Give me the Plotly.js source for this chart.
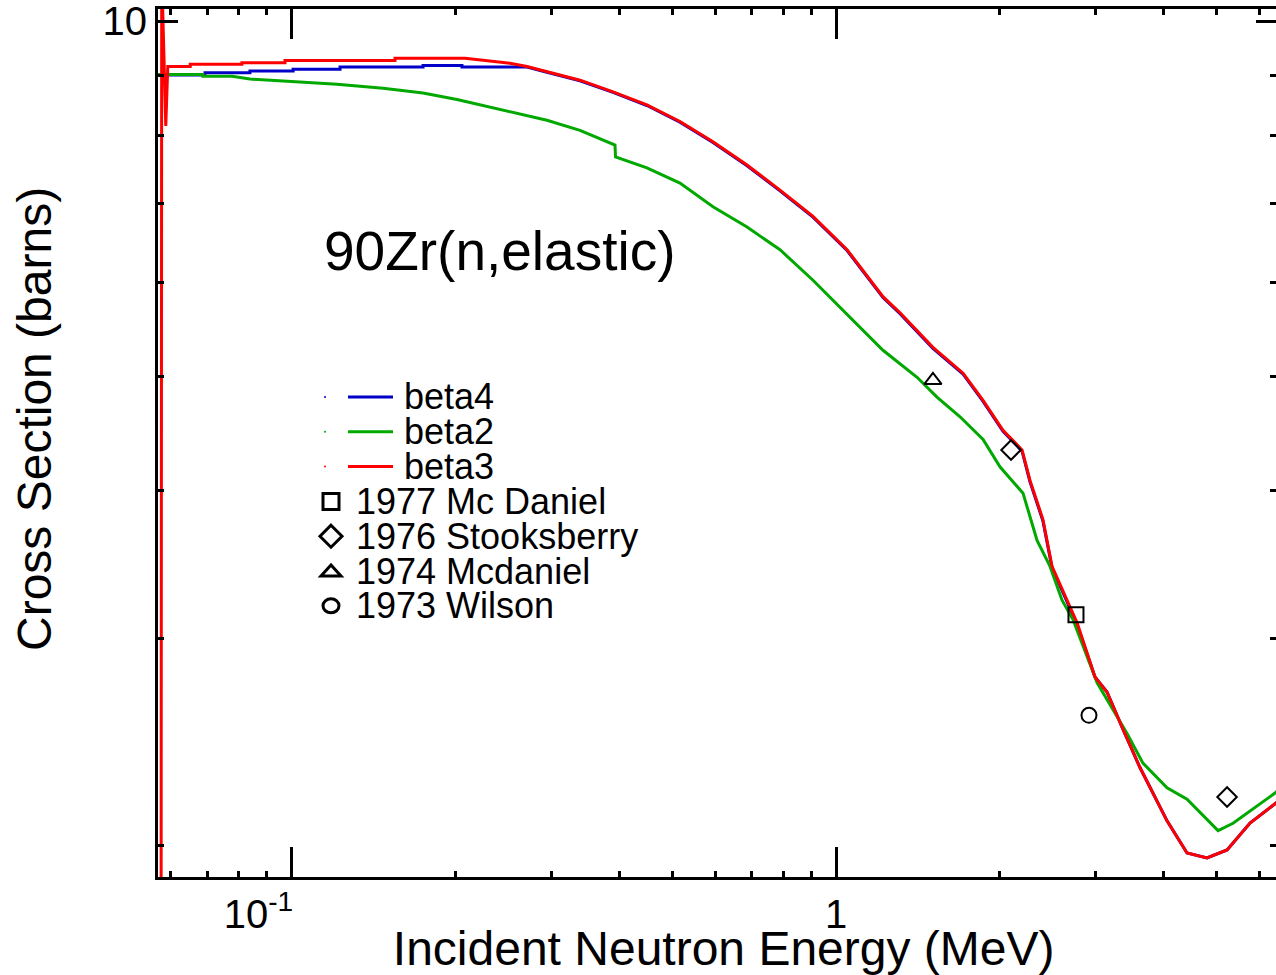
<!DOCTYPE html>
<html><head><meta charset="utf-8">
<script src="https://cdn.plot.ly/plotly-3.0.1.min.js"></script>
<style>html,body{margin:0;padding:0;background:#fff;overflow:hidden}#chart{width:1276px;height:975px}</style>
</head><body><div id="chart"></div>
<script>
// ---- data ----
const seriesNames = ['beta4', 'beta2', 'beta3'];
const seriesColors = ['#0000c8', '#00a800', '#ff0000'];

const energyBeta4 = [0.0568, 0.0693, 0.0693, 0.0838, 0.0838, 0.1006, 0.1006, 0.1227, 0.1227, 0.1743, 0.1743, 0.2055, 0.2055, 0.2518, 0.2706, 0.2944, 0.3386, 0.3894, 0.4494, 0.5168, 0.5943, 0.6864, 0.7891, 0.9073, 1.048, 1.220, 1.311, 1.507, 1.712, 1.863, 2.027, 2.197, 2.272, 2.400, 2.494, 2.657, 2.773, 2.991, 3.147, 3.368, 3.618, 4.057, 4.415, 4.804, 5.230, 5.763, 6.434, 6.6];
const sigmaBeta4 = [9.00, 9.00, 9.04, 9.04, 9.07, 9.07, 9.10, 9.10, 9.14, 9.14, 9.17, 9.17, 9.14, 9.14, 9.14, 9.05, 8.90, 8.70, 8.48, 8.21, 7.89, 7.54, 7.18, 6.82, 6.39, 5.83, 5.65, 5.28, 5.02, 4.76, 4.49, 4.32, 4.07, 3.77, 3.44, 3.22, 3.08, 2.78, 2.70, 2.51, 2.33, 2.10, 1.972, 1.953, 1.984, 2.091, 2.174, 2.20];

const energyBeta2 = [0.0568, 0.0687, 0.0687, 0.0777, 0.0838, 0.1006, 0.1211, 0.1472, 0.1743, 0.2012, 0.2218, 0.2550, 0.2944, 0.3386, 0.3926, 0.3935, 0.4494, 0.5168, 0.5943, 0.6864, 0.7891, 0.9073, 0.9874, 1.061, 1.220, 1.409, 1.533, 1.690, 1.863, 2.001, 2.206, 2.341, 2.473, 2.602, 2.725, 3.017, 3.425, 3.664, 4.057, 4.415, 5.034, 5.364, 6.434, 6.6];
const sigmaBeta2 = [9.01, 9.01, 8.98, 8.98, 8.93, 8.89, 8.84, 8.77, 8.69, 8.58, 8.49, 8.37, 8.24, 8.08, 7.85, 7.67, 7.51, 7.29, 6.96, 6.69, 6.40, 6.03, 5.80, 5.61, 5.26, 4.99, 4.80, 4.62, 4.42, 4.19, 3.98, 3.63, 3.45, 3.23, 3.11, 2.75, 2.49, 2.35, 2.24, 2.19, 2.06, 2.09, 2.22, 2.25];

const energyBeta3 = [0.05754, 0.05770, 0.05870, 0.05920, 0.0651, 0.0651, 0.0810, 0.0810, 0.0972, 0.0972, 0.1548, 0.1548, 0.2082, 0.2246, 0.2518, 0.2706, 0.2944, 0.3386, 0.3894, 0.4494, 0.5168, 0.5943, 0.6864, 0.7891, 0.9073, 1.048, 1.220, 1.311, 1.507, 1.712, 1.863, 2.027, 2.197, 2.272, 2.400, 2.494, 2.657, 2.773, 2.991, 3.147, 3.368, 3.618, 4.057, 4.415, 4.804, 5.230, 5.763, 6.434, 6.6];
const sigmaBeta3 = [1.5, 11.0, 8.15, 9.15, 9.15, 9.19, 9.19, 9.22, 9.22, 9.26, 9.26, 9.30, 9.30, 9.26, 9.21, 9.15, 9.06, 8.91, 8.71, 8.49, 8.22, 7.90, 7.55, 7.19, 6.83, 6.40, 5.84, 5.66, 5.29, 5.03, 4.77, 4.50, 4.33, 4.08, 3.78, 3.45, 3.23, 3.09, 2.78, 2.70, 2.51, 2.33, 2.10, 1.972, 1.953, 1.984, 2.091, 2.174, 2.20];

const expNames = ['1977 Mc Daniel', '1976 Stooksberry', '1974 Mcdaniel', '1973 Wilson'];
const expSymbols = ['square-open', 'diamond-open', 'triangle-up-open', 'circle-open'];
const energyMcDaniel1977 = [2.760];
const sigmaMcDaniel1977 = [3.14];
const energyStooksberry1976 = [2.097, 5.230];
const sigmaStooksberry1976 = [4.33, 2.20];
const energyMcdaniel1974 = [1.507];
const sigmaMcdaniel1974 = [4.96];
const energyWilson1973 = [2.916];
const sigmaWilson1973 = [2.58];

const xTickVals = [0.1, 1];
const xTickText = ['10<sup>-1</sup>&nbsp;&nbsp;&nbsp;&nbsp;&nbsp;&nbsp;', '1'];
const xMinorVals = [0.06, 0.07, 0.08, 0.09, 0.2, 0.3, 0.4, 0.5, 0.6, 0.7, 0.8, 0.9, 2, 3, 4, 5, 6];
const yTickVals = [10];
const yTickText = ['10'];
const yMinorVals = [2, 3, 4, 5, 6, 7, 8, 9];

const chartTitle = '90Zr(n,elastic)';
const xTitle = 'Incident Neutron Energy (MeV)';
const yTitle = 'Cross Section (barns)';

// ---- layout geometry ----
const W = 1276, H = 975, ML = 158, MR = 0, MT = 9, MB = 98;
const PW = W - ML - MR, PH = H - MT - MB;
const FONT = 'Liberation Sans, Arial, Helvetica, sans-serif';
const px = x => (x - ML) / PW;
const py = y => (H - MB - y) / PH;

const lineSeries = [
  {name: seriesNames[0], x: energyBeta4, y: sigmaBeta4, color: seriesColors[0]},
  {name: seriesNames[1], x: energyBeta2, y: sigmaBeta2, color: seriesColors[1]},
  {name: seriesNames[2], x: energyBeta3, y: sigmaBeta3, color: seriesColors[2]}
];
const expSeries = [
  {name: expNames[0], x: energyMcDaniel1977, y: sigmaMcDaniel1977, symbol: expSymbols[0]},
  {name: expNames[1], x: energyStooksberry1976, y: sigmaStooksberry1976, symbol: expSymbols[1]},
  {name: expNames[2], x: energyMcdaniel1974, y: sigmaMcdaniel1974, symbol: expSymbols[2]},
  {name: expNames[3], x: energyWilson1973, y: sigmaWilson1973, symbol: expSymbols[3]}
];

const traces = [];
lineSeries.forEach(s => traces.push({
  type: 'scatter', mode: 'lines', name: s.name, x: s.x, y: s.y,
  line: {color: s.color, width: 3}, showlegend: false, hoverinfo: 'x+y+name'
}));
expSeries.forEach(s => traces.push({
  type: 'scatter', mode: 'markers', name: s.name, x: s.x, y: s.y,
  marker: {symbol: s.symbol, size: 15, color: '#000', line: {color: '#000', width: 2}},
  showlegend: false, cliponaxis: false
}));

// ---- hand-drawn legend (IDL style) ----
const shapes = [];
const annotations = [];
const rowY0 = 397, rowStep = 34.8;
lineSeries.forEach((s, i) => {
  const yy = py(rowY0 + i * rowStep);
  shapes.push({type: 'circle', xref: 'paper', yref: 'paper', xsizemode: 'pixel', ysizemode: 'pixel',
    xanchor: px(325), yanchor: yy, x0: -1, x1: 1, y0: -1, y1: 1,
    fillcolor: s.color, line: {width: 0}});
  shapes.push({type: 'line', xref: 'paper', yref: 'paper', x0: px(348), x1: px(393), y0: yy, y1: yy,
    line: {color: s.color, width: 3}});
  annotations.push({xref: 'paper', yref: 'paper', x: px(402), y: yy, xanchor: 'left', yanchor: 'middle',
    text: s.name, showarrow: false, font: {family: FONT, size: 36, color: '#000'}});
});
const glyphPaths = [
  'M-8,-8L8,-8L8,8L-8,8Z',
  'M0,11L11,0L0,-11L-11,0Z',
  'M-10,-5L10,-5L0,6Z',
  null
];
expSeries.forEach((s, j) => {
  const yy = py(rowY0 + (j + 3) * rowStep);
  const g = {xref: 'paper', yref: 'paper', xsizemode: 'pixel', ysizemode: 'pixel',
    xanchor: px(331), yanchor: yy, line: {color: '#000', width: 3}};
  if (glyphPaths[j]) { g.type = 'path'; g.path = glyphPaths[j]; }
  else { g.type = 'circle'; g.x0 = -8; g.x1 = 8; g.y0 = -7; g.y1 = 7; }
  shapes.push(g);
  annotations.push({xref: 'paper', yref: 'paper', x: px(354), y: yy, xanchor: 'left', yanchor: 'middle',
    text: s.name, showarrow: false, font: {family: FONT, size: 36, color: '#000'}});
});

annotations.push({xref: 'paper', yref: 'paper', x: px(322), y: py(251), xanchor: 'left', yanchor: 'middle',
  text: chartTitle, showarrow: false, font: {family: FONT, size: 55, color: '#000'}});
annotations.push({xref: 'paper', yref: 'paper', x: px(34), y: py(419), xanchor: 'center', yanchor: 'middle',
  text: yTitle, textangle: -90, showarrow: false, font: {family: FONT, size: 48, color: '#000'}});

const layout = {
  width: W, height: H,
  margin: {l: ML, r: MR, t: MT, b: MB, pad: 0},
  paper_bgcolor: '#fff', plot_bgcolor: '#fff',
  font: {family: FONT, color: '#000'},
  showlegend: false,
  xaxis: {
    type: 'log', range: [Math.log10(0.0568), 0.8084],
    showline: true, linecolor: '#000', linewidth: 3, mirror: 'ticks',
    showgrid: false, zeroline: false,
    ticks: 'inside', ticklen: 30, tickwidth: 3, tickcolor: '#000',
    tickmode: 'array', tickvals: xTickVals, ticktext: xTickText,
    tickfont: {family: FONT, size: 40, color: '#000'},
    ticklabeloverflow: 'allow',
    minor: {tickmode: 'array', tickvals: xMinorVals, ticks: 'inside', ticklen: 6, tickwidth: 3, tickcolor: '#000', showgrid: false},
    title: {text: '&nbsp;' + xTitle, font: {family: FONT, size: 48, color: '#000'}, standoff: 4}
  },
  yaxis: {
    type: 'log', range: [0.2746, 1.0102],
    showline: true, linecolor: '#000', linewidth: 3, mirror: 'ticks',
    showgrid: false, zeroline: false,
    ticks: 'inside', ticklen: 20, tickwidth: 3, tickcolor: '#000',
    tickmode: 'array', tickvals: yTickVals, ticktext: yTickText,
    tickfont: {family: FONT, size: 40, color: '#000'},
    ticklabeloverflow: 'allow',
    minor: {tickmode: 'array', tickvals: yMinorVals, ticks: 'inside', ticklen: 6, tickwidth: 3, tickcolor: '#000', showgrid: false}
  },
  shapes: shapes,
  annotations: annotations
};

Plotly.newPlot('chart', traces, layout, {displayModeBar: false, staticPlot: true});
</script>
</body></html>
